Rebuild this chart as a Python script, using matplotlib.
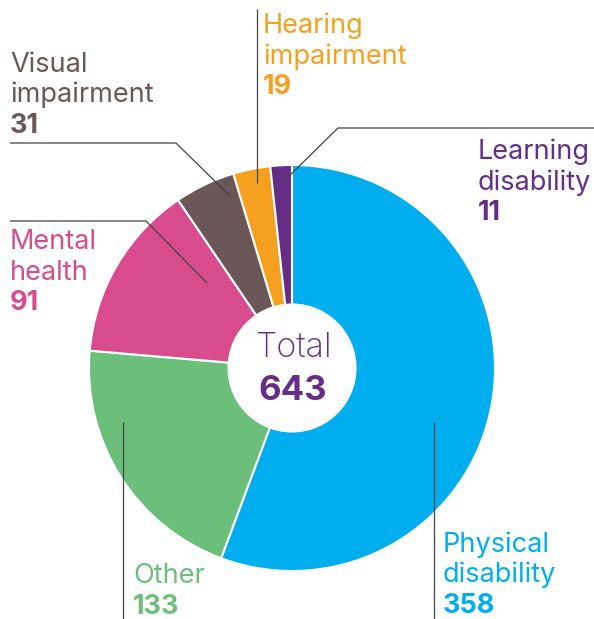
import matplotlib
matplotlib.use('Agg')
from matplotlib import pyplot as plt

# data, clockwise from 12 o'clock
categories = ['Physical\ndisability', 'Other', 'Mental\nhealth', 'Visual\nimpairment',
			  'Hearing\nimpairment', 'Learning\ndisability']
values = [358, 133, 91, 31, 19, 11]
colors = ['#00AEEF', '#6CBF7B', '#D84B8C', '#6B5757', '#F5A01F', '#662D86']
total = sum(values)

W, H = 594, 619
plt.rcParams['font.family'] = ['Inter', 'DejaVu Sans']

fig = plt.figure(figsize=(W / 100, H / 100), dpi=100)
ax = fig.add_axes([0, 0, 1, 1])

cx, cy, r_out, r_in = 292, 368, 203, 63.5

# y axis is inverted, so counterclock=True here draws clockwise on screen
ax.pie(values, colors=colors, startangle=-90, counterclock=True,
	   center=(cx, cy), radius=r_out, frame=True,
	   wedgeprops=dict(width=r_out - r_in, edgecolor='white', linewidth=1.5))
ax.set_xlim(0, W)
ax.set_ylim(H, 0)
ax.set_aspect('equal')
ax.axis('off')

# leader lines (label anchor -> slice)
line_kw = dict(color='#444444', lw=0.9, solid_capstyle='butt')
leaders = {
	'Physical\ndisability': ([434, 434], [422, 619]),
	'Other': ([123, 123], [422, 619]),
	'Mental\nhealth': ([10, 146, 207], [221, 221, 283]),
	'Visual\nimpairment': ([10, 176, 231], [143, 143, 197]),
	'Hearing\nimpairment': ([257, 257], [9, 183]),
	'Learning\ndisability': ([594, 338, 283], [128, 128, 182]),
}
for cat in categories:
	xs, ys = leaders[cat]
	ax.plot(xs, ys, **line_kw)

# label positions: x and first-line baseline
label_pos = {
	'Physical\ndisability': (443, 552),
	'Other': (133, 583),
	'Mental\nhealth': (10, 249),
	'Visual\nimpairment': (10, 72),
	'Hearing\nimpairment': (263, 33),
	'Learning\ndisability': (478, 159),
}
step = 30.5
fs = 19.5
for cat, val, col in zip(categories, values, colors):
	x, y = label_pos[cat]
	lines = cat.split('\n')
	for i, ln in enumerate(lines):
		ax.text(x, y + i * step, ln, color=col, fontsize=fs, va='baseline', ha='left')
	ax.text(x, y + len(lines) * step, str(val), color=col, fontsize=fs,
			fontweight='bold', va='baseline', ha='left')

# centre
ax.text(cx + 1, 357, 'Total', color='#662D86', fontsize=24.5, fontweight='light',
		ha='center', va='baseline')
ax.text(cx + 1, 400, str(total), color='#662D86', fontsize=25, fontweight='bold',
		ha='center', va='baseline')

fig.savefig('out.png', dpi=100, facecolor='white')
